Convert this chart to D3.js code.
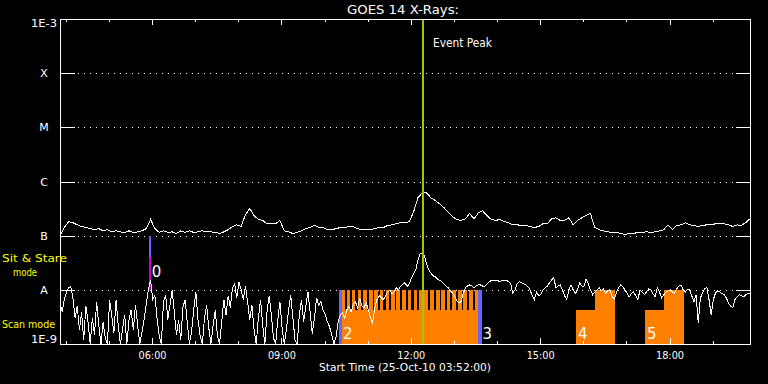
<!DOCTYPE html>
<html>
<head>
<meta charset="utf-8">
<script src="https://cdn.jsdelivr.net/npm/d3@7"></script>
<style>
body { margin: 0; background: #000; }
svg { display: block; }
text { font-family: "DejaVu Sans", sans-serif; fill: #fff; }
</style>
</head>
<body>
<script>
// GOES 14 x-ray fluxes, log10(W/m^2)
const day = "2010-10-25";
const startTime = "03:52";
const endTime = "19:52";
const longCadence = 6;   // minutes between samples
const shortCadence = 3;

const longLog = [
  -7.00,-6.85,-6.74,-6.76,-6.80,-6.83,-6.85,-6.87,-6.89,-6.87,
  -6.91,-6.89,-6.93,-6.91,-6.93,-6.94,-6.91,-6.94,-6.93,-6.91,
  -6.87,-6.70,-6.87,-6.94,-6.91,-6.94,-6.93,-6.96,-6.91,-6.94,
  -6.91,-6.94,-6.93,-6.91,-6.93,-6.93,-6.94,-6.96,-6.93,-6.89,
  -6.83,-6.80,-6.83,-6.61,-6.50,-6.63,-6.70,-6.72,-6.78,-6.78,
  -6.78,-6.72,-6.91,-6.93,-6.96,-6.94,-6.91,-6.87,-6.85,-6.81,
  -6.85,-6.85,-6.89,-6.89,-6.87,-6.85,-6.85,-6.83,-6.83,-6.87,
  -6.89,-6.89,-6.89,-6.87,-6.85,-6.85,-6.81,-6.80,-6.78,-6.76,
  -6.76,-6.74,-6.56,-6.30,-6.21,-6.21,-6.30,-6.35,-6.41,-6.48,
  -6.56,-6.65,-6.70,-6.72,-6.69,-6.59,-6.69,-6.58,-6.54,-6.63,
  -6.70,-6.72,-6.70,-6.74,-6.76,-6.80,-6.80,-6.81,-6.81,-6.83,
  -6.85,-6.83,-6.78,-6.78,-6.69,-6.67,-6.72,-6.72,-6.67,-6.80,
  -6.72,-6.67,-6.63,-6.59,-6.85,-6.89,-6.91,-6.93,-6.94,-6.94,
  -6.96,-6.98,-6.96,-6.96,-6.94,-6.94,-6.93,-6.94,-6.93,-6.91,
  -6.89,-6.80,-6.89,-6.81,-6.80,-6.76,-6.80,-6.81,-6.83,-6.81,
  -6.80,-6.80,-6.78,-6.78,-6.78,-6.80,-6.83,-6.80,-6.81,-6.76,
  -6.69
];

const shortLog = [
  -8.24,-8.41,-8.18,-8.04,-7.96,-7.94,-8.15,-8.52,-8.30,-8.74,
  -8.41,-8.92,-8.30,-8.59,-9.00,-8.52,-8.83,-8.22,-8.66,-9.00,
  -8.59,-8.89,-9.00,-8.18,-8.48,-8.79,-8.18,-8.66,-9.00,-8.74,
  -8.46,-9.00,-8.55,-8.37,-8.74,-8.28,-8.65,-9.00,-8.78,-8.55,
  -8.26,-8.00,-7.82,-8.18,-8.11,-8.52,-8.85,-9.00,-8.22,-8.09,
  -8.55,-8.28,-8.00,-8.41,-8.83,-8.55,-8.92,-8.33,-8.18,-8.59,
  -9.00,-8.78,-8.37,-8.04,-8.55,-8.85,-9.00,-8.52,-8.28,-8.70,
  -9.00,-8.66,-8.37,-8.85,-9.00,-8.59,-8.18,-8.46,-8.11,-8.33,
  -7.96,-7.89,-8.15,-7.85,-8.00,-8.18,-7.93,-8.22,-8.55,-8.28,
  -8.74,-9.00,-8.52,-8.18,-8.65,-9.00,-8.41,-8.11,-8.46,-8.89,
  -9.00,-8.55,-8.22,-8.70,-9.00,-8.74,-8.37,-8.09,-8.52,-8.92,
  -9.00,-8.46,-8.18,-8.59,-8.30,-8.04,-8.41,-8.81,-8.52,-8.15,
  -8.28,-8.22,-8.37,-8.46,-8.59,-8.68,-8.83,-9.00,-8.87,-8.59,
  -8.46,-8.42,-8.52,-8.37,-8.31,-8.41,-8.26,-8.22,-8.33,-8.15,
  -8.30,-8.33,-8.24,-8.37,-8.52,-8.61,-8.33,-8.18,-8.11,-8.15,
  -8.18,-8.11,-8.04,-8.00,-8.07,-8.04,-7.96,-8.00,-7.93,-7.89,
  -7.87,-7.94,-7.89,-7.78,-7.70,-7.63,-7.45,-7.34,-7.32,-7.37,
  -7.52,-7.63,-7.69,-7.74,-7.76,-7.80,-7.82,-7.85,-7.89,-7.93,
  -7.96,-8.02,-8.06,-8.11,-8.20,-8.24,-8.22,-8.07,-7.96,-7.93,
  -7.91,-7.93,-7.96,-7.93,-7.91,-7.91,-7.93,-7.94,-7.89,-7.85,
  -7.83,-7.82,-7.82,-7.83,-7.85,-7.83,-7.82,-7.82,-7.85,-7.89,
  -8.06,-8.00,-7.89,-7.85,-7.87,-7.89,-7.91,-7.94,-8.00,-8.11,
  -8.18,-8.04,-8.11,-8.09,-8.00,-7.96,-7.93,-7.87,-7.82,-7.78,
  -7.96,-7.93,-7.91,-8.00,-8.11,-8.18,-8.00,-7.91,-8.00,-8.07,
  -8.00,-7.87,-7.93,-7.94,-7.80,-7.89,-8.00,-8.09,-8.04,-8.00,
  -7.96,-8.02,-7.98,-8.06,-8.02,-8.00,-8.11,-8.18,-8.06,-7.96,
  -7.91,-7.94,-8.00,-8.06,-8.13,-8.07,-8.04,-8.11,-8.18,-8.00,
  -8.04,-8.09,-8.04,-7.98,-8.00,-8.07,-8.13,-7.96,-8.04,-8.15,
  -8.09,-8.04,-8.02,-8.00,-8.04,-8.06,-7.98,-7.93,-7.91,-8.00,
  -8.04,-8.00,-8.00,-8.11,-8.22,-8.09,-8.61,-8.15,-8.06,-7.98,
  -7.96,-8.18,-8.46,-8.18,-8.06,-8.02,-8.04,-8.07,-8.09,-8.15,
  -8.24,-8.30,-8.33,-8.18,-8.13,-8.09,-8.11,-8.13,-8.09,-8.07,
  -8.06
];

const levelNames = ["1E-3", "X", "M", "C", "B", "A", "1E-9"];
const levelValues = [1e-3, 1e-4, 1e-5, 1e-6, 1e-7, 1e-8, 1e-9];

const eventPeak = "12:17";

// instrument modes
const scanIntervals = [["10:23", "13:37"], ["15:50", "16:44"], ["17:26", "18:20"]];
const stareIntervals = [
  ["10:23", "10:28"], ["10:31", "10:36"], ["10:38", "10:43"], ["10:46", "10:51"],
  ["10:54", "10:59"], ["11:02", "11:07"], ["11:09", "11:14"], ["11:17", "11:22"],
  ["11:25", "11:30"], ["11:33", "11:38"], ["11:40", "11:45"], ["11:48", "11:53"],
  ["11:56", "12:01"], ["12:04", "12:09"], ["12:11", "12:16"], ["12:19", "12:24"],
  ["12:27", "12:32"], ["12:35", "12:40"], ["12:42", "12:47"], ["12:50", "12:55"],
  ["12:58", "13:03"], ["13:06", "13:11"], ["13:13", "13:18"], ["13:21", "13:26"],
  ["13:29", "13:37"], ["16:16", "16:44"], ["17:52", "18:20"]
];
const scanTop = 4.3e-9;
const stareTop = 1e-8;

// pointing changes
const pointLabels = ["0", "2", "3", "4", "5"];
const pointTimes = ["05:57", "10:23", "13:37", "15:50", "17:26"];
const pointRows = ["stare", "scan", "scan", "scan", "scan"];

const markers = [
  {time: "05:57", from: 1e-7, to: 4.1e-8, kind: "slew"},
  {time: "05:57", from: 4.1e-8, to: 1e-8, kind: "stare"},
  {time: "10:22", from: 1e-8, to: 1e-9, kind: "slew"},
  {time: "13:37", from: 1e-8, to: 1e-9, kind: "slew"}
];

const W = 768, H = 384;
const plot = {left: 60, right: 750, top: 19, bottom: 344};
const orange = "#ff8000", blue = "#6464ff", magenta = "#c800c8", green = "#99cc00", yellow = "#ffff00";

const parse = d3.timeParse("%Y-%m-%d %H:%M");
const t = s => parse(day + " " + s);
const t0 = t(startTime);

const x = d3.scaleTime().domain([t0, t(endTime)]).range([plot.left, plot.right]);
const y = d3.scaleLog().domain([1e-9, 1e-3]).range([plot.bottom, plot.top]);

const svg = d3.select("body").append("svg")
    .attr("width", W)
    .attr("height", H);

svg.append("rect").attr("width", W).attr("height", H).attr("fill", "#000");

svg.append("defs").append("clipPath").attr("id", "clip")
  .append("rect")
    .attr("x", plot.left).attr("y", plot.top)
    .attr("width", plot.right - plot.left).attr("height", plot.bottom - plot.top);

// level lines: short solid stubs, dotted across
const inner = levelValues.slice(1, -1);
const grid = svg.append("g").attr("stroke", "#fff").attr("shape-rendering", "crispEdges");
grid.selectAll(".stubL").data(inner).join("line")
    .attr("x1", plot.left).attr("x2", plot.left + 15)
    .attr("y1", d => Math.round(y(d)) + 0.5).attr("y2", d => Math.round(y(d)) + 0.5);
grid.selectAll(".stubR").data(inner).join("line")
    .attr("x1", plot.right - 14).attr("x2", plot.right)
    .attr("y1", d => Math.round(y(d)) + 0.5).attr("y2", d => Math.round(y(d)) + 0.5);
grid.selectAll(".dots").data(inner).join("line")
    .attr("x1", plot.left + 18).attr("x2", plot.right - 14)
    .attr("y1", d => Math.round(y(d)) + 0.5).attr("y2", d => Math.round(y(d)) + 0.5)
    .attr("stroke-dasharray", "1 5");

// mode bands
const bands = svg.append("g").attr("fill", orange).attr("shape-rendering", "crispEdges");
bands.selectAll(".scan").data(scanIntervals).join("rect")
    .attr("x", d => x(t(d[0])))
    .attr("width", d => x(t(d[1])) - x(t(d[0])))
    .attr("y", y(scanTop))
    .attr("height", plot.bottom - y(scanTop));
bands.selectAll(".stare").data(stareIntervals).join("rect")
    .attr("x", d => x(t(d[0])))
    .attr("width", d => x(t(d[1])) - x(t(d[0])))
    .attr("y", y(stareTop))
    .attr("height", plot.bottom - y(stareTop));

// pointing markers
const markColor = {slew: blue, stare: magenta};
svg.append("g").attr("shape-rendering", "crispEdges")
  .selectAll("line").data(markers).join("line")
    .attr("x1", d => x(t(d.time))).attr("x2", d => x(t(d.time)))
    .attr("y1", d => y(d.from)).attr("y2", d => y(d.to))
    .attr("stroke", d => markColor[d.kind])
    .attr("stroke-width", (d, i) => i === 3 ? 4 : (i === 2 ? 3 : 2));

// flux curves
const line = d3.line()
    .x(d => x(d[0]))
    .y(d => y(d[1]));

const longSeries = longLog.map((v, i) => [d3.timeMinute.offset(t0, i * longCadence), Math.pow(10, v)]);
const shortSeries = shortLog.map((v, i) => [d3.timeMinute.offset(t0, i * shortCadence), Math.pow(10, v)]);

const curves = svg.append("g").attr("clip-path", "url(#clip)")
    .attr("fill", "none").attr("stroke", "#fff").attr("stroke-width", 1)
    .attr("shape-rendering", "crispEdges");
curves.append("path").datum(longSeries).attr("d", line);
curves.append("path").datum(shortSeries).attr("d", line);

// pointing numbers
svg.append("g").selectAll("text").data(pointLabels).join("text")
    .attr("x", (d, i) => x(t(pointTimes[i])) + 2)
    .attr("y", (d, i) => pointRows[i] === "stare" ? 277 : plot.bottom - 5)
    .attr("font-size", 15)
    .text(d => d);

// event peak
svg.append("line")
    .attr("x1", x(t(eventPeak))).attr("x2", x(t(eventPeak)))
    .attr("y1", plot.top).attr("y2", plot.bottom)
    .attr("stroke", green).attr("stroke-width", 2)
    .attr("shape-rendering", "crispEdges");
svg.append("text")
    .attr("x", x(t(eventPeak)) + 10).attr("y", 47)
    .attr("font-size", 12)
    .attr("textLength", 59).attr("lengthAdjust", "spacingAndGlyphs")
    .text("Event Peak");

// time axes
const hours = x.ticks(d3.timeHour.every(1));
const major = d => d.getHours() % 3 === 0;

const topAxis = svg.append("g")
    .attr("transform", `translate(0,${plot.top})`)
    .call(d3.axisTop(x).tickValues(hours).tickSizeInner(-3).tickSizeOuter(0).tickFormat(""));
topAxis.selectAll(".tick line").filter(major).attr("y2", 6);

const bottomAxis = svg.append("g")
    .attr("transform", `translate(0,${plot.bottom})`)
    .call(d3.axisBottom(x).tickValues(hours).tickSizeInner(-3).tickSizeOuter(0).tickPadding(7)
      .tickFormat(d => major(d) ? d3.timeFormat("%H:%M")(d) : ""));
bottomAxis.selectAll(".tick line").filter(major).attr("y2", -6);

[topAxis, bottomAxis].forEach(g => {
  g.select(".domain").remove();
  g.selectAll(".tick line").attr("stroke", "#fff").attr("shape-rendering", "crispEdges");
  g.selectAll(".tick text")
      .filter(major)
      .attr("fill", "#fff")
      .attr("font-family", "DejaVu Sans, sans-serif")
      .attr("font-size", 11)
      .attr("textLength", 28).attr("lengthAdjust", "spacingAndGlyphs");
});

// frame
svg.append("rect")
    .attr("x", plot.left + 0.5).attr("y", plot.top + 0.5)
    .attr("width", plot.right - plot.left).attr("height", plot.bottom - plot.top)
    .attr("fill", "none").attr("stroke", "#fff")
    .attr("shape-rendering", "crispEdges");

// level labels
const lab = svg.append("g").attr("font-size", 11);
levelNames.forEach((name, i) => {
  const v = levelValues[i];
  const isEnd = i === 0 || i === levelNames.length - 1;
  const txt = lab.append("text").text(name);
  if (isEnd) {
    txt.attr("x", 57).attr("text-anchor", "end")
       .attr("y", i === 0 ? y(v) + 8 : y(v) - 1)
       .attr("textLength", 26).attr("lengthAdjust", "spacingAndGlyphs");
  } else {
    txt.attr("x", 44).attr("text-anchor", "middle").attr("y", y(v) + 4);
  }
});

// mode legend
const legend = svg.append("g").attr("font-size", 11);
legend.append("text").attr("x", 2).attr("y", 262).style("fill", yellow)
    .attr("textLength", 65).attr("lengthAdjust", "spacingAndGlyphs").text("Sit & Stare");
legend.append("text").attr("x", 13).attr("y", 276).style("fill", yellow)
    .attr("textLength", 24).attr("lengthAdjust", "spacingAndGlyphs").text("mode");
legend.append("text").attr("x", 2).attr("y", 328).style("fill", yellow)
    .attr("textLength", 53).attr("lengthAdjust", "spacingAndGlyphs").text("Scan mode");

// titles
svg.append("text")
    .attr("x", 347).attr("y", 14)
    .attr("font-size", 12)
    .attr("textLength", 112).attr("lengthAdjust", "spacingAndGlyphs")
    .text("GOES 14 X-Rays:");
svg.append("text")
    .attr("x", 319).attr("y", 371)
    .attr("font-size", 11)
    .attr("textLength", 172).attr("lengthAdjust", "spacingAndGlyphs")
    .text("Start Time (25-Oct-10 03:52:00)");
</script>
</body>
</html>
